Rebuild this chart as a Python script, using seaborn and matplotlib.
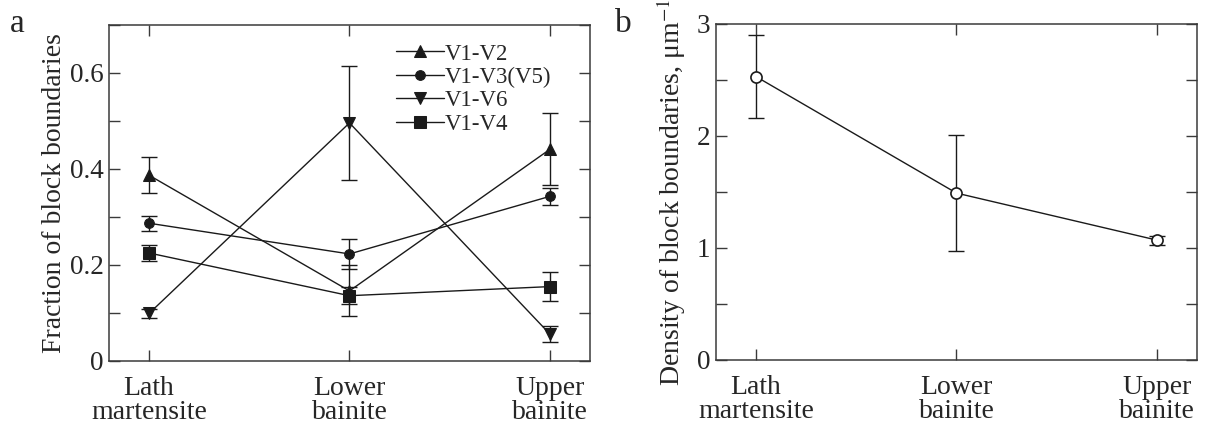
import numpy as np
import pandas as pd
import seaborn as sns
import matplotlib
matplotlib.use("Agg")
import matplotlib.pyplot as plt
from matplotlib.ticker import MultipleLocator

sns.set_style("ticks")
plt.rcParams['font.family'] = ['Liberation Serif', 'DejaVu Serif']
plt.rcParams['mathtext.fontset'] = 'stix'

categories = ["Lath\nmartensite", "Lower\nbainite", "Upper\nbainite"]

series_names = ["V1-V2", "V1-V3(V5)", "V1-V6", "V1-V4"]
v1v2 = [0.387, 0.146, 0.441]
v1v2_err = [0.037, 0.053, 0.075]
v1v3 = [0.287, 0.223, 0.343]
v1v3_err = [0.016, 0.031, 0.017]
v1v6 = [0.099, 0.496, 0.056]
v1v6_err = [0.009, 0.119, 0.016]
v1v4 = [0.225, 0.136, 0.155]
v1v4_err = [0.016, 0.018, 0.031]

density = [2.53, 1.49, 1.07]
density_err = [0.37, 0.52, 0.04]

markers = ["^", "o", "v", "s"]

LINE = "#1a1a1a"
SPINE = "#3a3a3a"

fig = plt.figure(figsize=(12.08, 4.23), dpi=100)
axA = fig.add_axes([0.0902, 0.1466, 0.3982, 0.7943])
axB = fig.add_axes([0.5927, 0.1490, 0.3982, 0.7943])

x = np.arange(len(categories))
vals = [v1v2, v1v3, v1v6, v1v4]
errs = [v1v2_err, v1v3_err, v1v6_err, v1v4_err]
for name, v, e, m in zip(series_names, vals, errs, markers):
    df = pd.DataFrame({"x": x, "y": v})
    sns.lineplot(data=df, x="x", y="y", ax=axA, color=LINE, lw=1.0,
                 marker=m, markersize=8 if m != "o" else 7,
                 markeredgecolor=LINE, label=name)
    axA.errorbar(x, v, yerr=e, fmt="none", ecolor=LINE, elinewidth=1.0,
                 capsize=5.5, capthick=1.0)

dfb = pd.DataFrame({"x": x, "y": density})
sns.lineplot(data=dfb, x="x", y="y", ax=axB, color=LINE, lw=1.0,
             marker="o", markersize=8, markerfacecolor="white",
             markeredgecolor=LINE, markeredgewidth=1.2)
axB.errorbar(x, density, yerr=density_err, fmt="none", ecolor=LINE,
             elinewidth=1.0, capsize=5.5, capthick=1.0, zorder=1)

for ax in (axA, axB):
    ax.set_xlim(-0.2, 2.2)
    ax.set_xticks(x)
    ax.set_xticklabels(categories, fontsize=20, linespacing=0.95)
    ax.tick_params(axis="both", direction="in", top=True, right=True,
                   length=8, width=1.0, color=SPINE)
    ax.tick_params(axis="x", pad=10.5, labelsize=20)
    ax.tick_params(axis="y", pad=4, labelsize=19.5)
    ax.tick_params(axis="y", which="minor", direction="in", right=True,
                   length=8, width=1.0, color=SPINE)
    for s in ax.spines.values():
        s.set_linewidth(1.1)
        s.set_color(SPINE)
    ax.set_xlabel("")

axA.set_ylim(0, 0.7)
axA.set_yticks([0, 0.2, 0.4, 0.6])
axA.set_yticklabels(["0", "0.2", "0.4", "0.6"])
axA.yaxis.set_minor_locator(MultipleLocator(0.1))
axA.set_ylabel("Fraction of block boundaries", fontsize=20, labelpad=2)

axB.set_ylim(0, 3)
axB.set_yticks([0, 1, 2, 3])
axB.set_yticklabels(["0", "1", "2", "3"])
axB.yaxis.set_minor_locator(MultipleLocator(0.5))
axB.set_ylabel(r"Density of block boundaries, μm$^{-1}$", fontsize=20, labelpad=6)

leg = axA.legend(loc="upper left", bbox_to_anchor=(0.597, 0.945),
                 frameon=False, fontsize=16.5,
                 handlelength=2.1, handletextpad=0.0, labelspacing=0.1,
                 borderaxespad=0.0, borderpad=0.0)

fig.text(0.008, 0.925, "a", fontsize=24)
fig.text(0.509, 0.925, "b", fontsize=24)

fig.savefig("out.png", dpi=100)
